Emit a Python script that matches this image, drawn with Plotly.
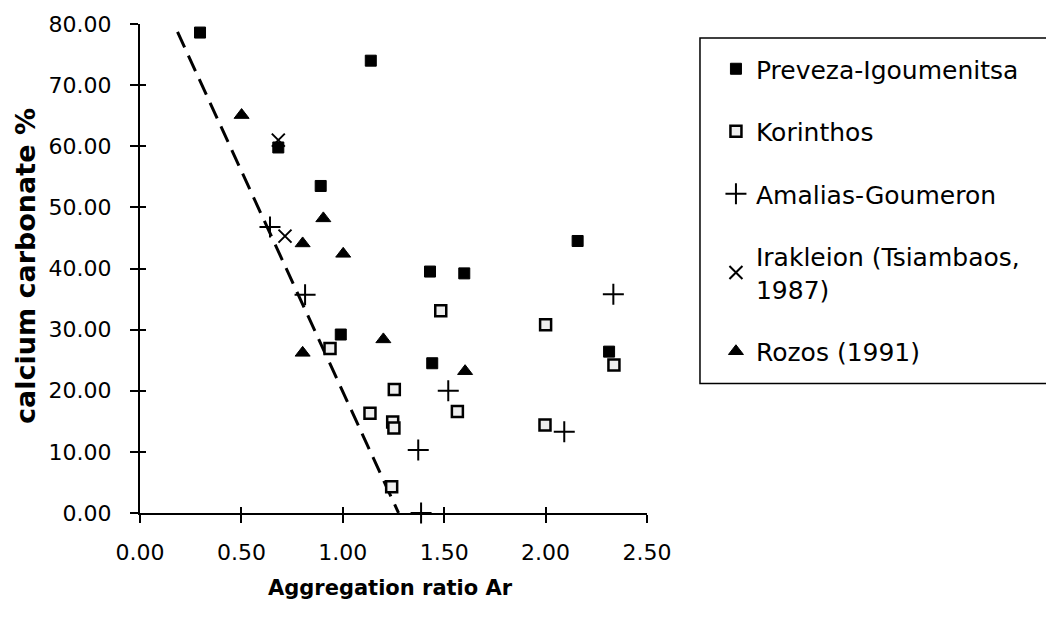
import plotly.graph_objects as go

# ---- data ----
preveza_x = [0.296, 1.138, 0.682, 0.891, 0.990, 2.158, 1.430, 1.599, 1.441, 2.313]
preveza_y = [78.6, 74.0, 59.8, 53.5, 29.2, 44.5, 39.5, 39.2, 24.5, 26.4]

korinthos_x = [0.937, 1.134, 1.241, 1.483, 2.000, 2.337, 1.254, 1.565, 1.246, 1.252, 1.997]
korinthos_y = [26.9, 16.3, 4.3, 33.1, 30.8, 24.2, 20.2, 16.6, 14.9, 13.9, 14.4]

amalias_x = [0.641, 0.814, 2.334, 1.520, 2.092, 1.372, 1.386]
amalias_y = [46.8, 35.7, 35.8, 20.0, 13.3, 10.3, 0.0]

irakleion_x = [0.682, 0.715]
irakleion_y = [61.0, 45.3]

rozos_x = [0.501, 0.904, 0.802, 1.002, 1.200, 0.802, 1.603]
rozos_y = [65.1, 48.2, 44.1, 42.4, 28.4, 26.2, 23.2]

trend_x = [0.185, 1.275]
trend_y = [78.7, 0.0]

x_ticks = [0.0, 0.5, 1.0, 1.5, 2.0, 2.5]
y_ticks = [0, 10, 20, 30, 40, 50, 60, 70, 80]

series_names = ["Preveza-Igoumenitsa", "Korinthos", "Amalias-Goumeron",
                "Irakleion (Tsiambaos,<br>1987)", "Rozos (1991)"]

FONT = "DejaVu Sans"

fig = go.Figure()

fig.add_trace(go.Scatter(x=trend_x, y=trend_y, mode="lines",
                         line=dict(color="black", width=3, dash="17px,9px"),
                         showlegend=False, hoverinfo="skip"))

fig.add_trace(go.Scatter(x=preveza_x, y=preveza_y, mode="markers", name=series_names[0],
                         legendgroup="g1",
                         marker=dict(symbol="square", size=11, color="black",
                                     line=dict(color="black", width=1))))
fig.add_trace(go.Scatter(x=korinthos_x, y=korinthos_y, mode="markers", name=series_names[1],
                         legendgroup="g2",
                         marker=dict(symbol="square", size=11, color="#eeeeee",
                                     line=dict(color="black", width=2.5))))
fig.add_trace(go.Scatter(x=amalias_x, y=amalias_y, mode="markers", name=series_names[2],
                         legendgroup="g3", cliponaxis=False,
                         marker=dict(symbol="cross-thin", size=15, color="black",
                                     line=dict(color="black", width=2))))
fig.add_trace(go.Scatter(x=irakleion_x, y=irakleion_y, mode="markers", name=series_names[3],
                         legendgroup="g4",
                         marker=dict(symbol="x-thin", size=13, color="black",
                                     line=dict(color="black", width=2))))
fig.add_trace(go.Scatter(x=rozos_x, y=rozos_y, mode="markers", name=series_names[4],
                         legendgroup="g5",
                         marker=dict(symbol="triangle-up", size=13, color="black",
                                     line=dict(color="black", width=1))))

# overlay axes used only for the inner half of the crossing tick marks
fig.add_trace(go.Scatter(x=[], y=[], xaxis="x2", yaxis="y2", showlegend=False,
                         hoverinfo="skip"))

axis_common = dict(showgrid=False, zeroline=False, showline=True, linecolor="black",
                   linewidth=2, ticks="outside", ticklen=8, tickwidth=2,
                   tickcolor="black", tickformat=".2f",
                   tickfont=dict(family=FONT, size=22, color="black"))

fig.update_layout(
    width=1046, height=618,
    margin=dict(l=140, r=399, t=24, b=105),
    paper_bgcolor="white", plot_bgcolor="white",
    xaxis=dict(range=[0, 2.5], tickvals=x_ticks, ticklabelstandoff=11, **axis_common),
    yaxis=dict(range=[0, 80], tickvals=y_ticks, ticklabelstandoff=14, **axis_common),
    xaxis2=dict(range=[0, 2.5], tickvals=x_ticks, overlaying="x", anchor="y2",
                side="bottom", showticklabels=False, showgrid=False, zeroline=False,
                showline=False, ticks="inside", ticklen=6, tickwidth=2, tickcolor="black"),
    yaxis2=dict(range=[0, 80], tickvals=y_ticks, overlaying="y", anchor="x2",
                side="left", showticklabels=False, showgrid=False, zeroline=False,
                showline=False, ticks="inside", ticklen=6, tickwidth=2, tickcolor="black"),
    legend=dict(x=1.136, y=0.955, xanchor="left", yanchor="top",
                font=dict(family=FONT, size=25, color="black"),
                traceorder="grouped", tracegroupgap=27,
                bgcolor="rgba(0,0,0,0)", borderwidth=0),
    showlegend=True,
    annotations=[
        dict(text="<b>Aggregation ratio Ar</b>", xref="paper", yref="paper",
             x=0.495, y=-0.153, xanchor="center", yanchor="middle", showarrow=False,
             font=dict(family=FONT, size=21, color="black")),
        dict(text="<b>calcium carbonate %</b>", xref="paper", yref="paper",
             x=-0.2268, y=0.505, xanchor="center", yanchor="middle", showarrow=False,
             textangle=-90, font=dict(family=FONT, size=27, color="black")),
    ],
    shapes=[dict(type="rect", xref="paper", yref="paper",
                 x0=1.1045, x1=1.815, y0=0.265, y1=0.9714,
                 line=dict(color="black", width=1.5), fillcolor="rgba(0,0,0,0)")],
)

fig.write_html("out.html")
